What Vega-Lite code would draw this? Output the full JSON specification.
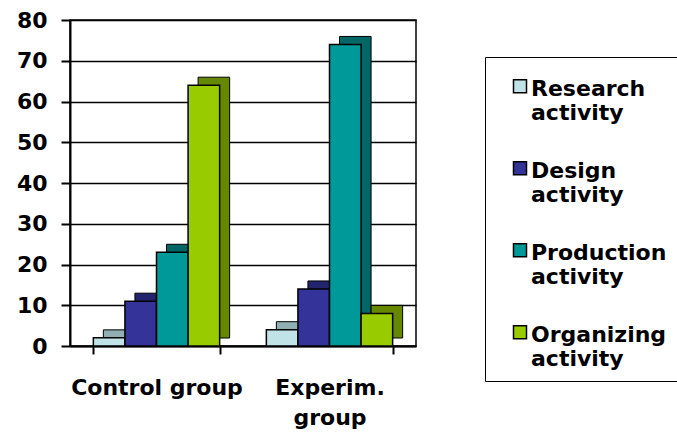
{
  "$schema": "https://vega.github.io/schema/vega-lite/v6.json",
  "width": 346,
  "height": 326,
  "autosize": "none",
  "padding": {"left": 70, "top": 20, "right": 261, "bottom": 87},
  "background": "white",
  "data": {"values": [
    {"group": "Control group", "activity": "Research activity", "value": 2},
    {"group": "Control group", "activity": "Design activity", "value": 11},
    {"group": "Control group", "activity": "Production activity", "value": 23},
    {"group": "Control group", "activity": "Organizing activity", "value": 64},
    {"group": "Experim. group", "activity": "Research activity", "value": 4},
    {"group": "Experim. group", "activity": "Design activity", "value": 14},
    {"group": "Experim. group", "activity": "Production activity", "value": 74},
    {"group": "Experim. group", "activity": "Organizing activity", "value": 8}
  ]},
  "encoding": {
    "x": {"field": "group", "type": "nominal", "sort": null,
      "scale": {"paddingInner": 0.27, "paddingOuter": 0.135},
      "axis": {"title": null, "labelAngle": 0, "labelFont": "DejaVu Sans", "labelFontSize": 22, "labelFontWeight": "bold", "labelColor": "black",
        "labelExpr": "datum.label == 'Experim. group' ? ['Experim.', 'group'] : datum.label",
        "labelLineHeight": 30, "labelPadding": 23, "labelBaseline": "top",
        "tickBand": "extent", "tickColor": "black", "tickSize": 8, "tickWidth": 2, "domainColor": "black", "domainWidth": 2, "grid": false}},
    "y": {"field": "value", "type": "quantitative",
      "scale": {"domain": [0, 80]},
      "axis": {"title": null, "values": [0,10,20,30,40,50,60,70,80], "labelFont": "DejaVu Sans", "labelFontSize": 22, "labelFontWeight": "bold", "labelColor": "black", "labelPadding": 14,
        "tickColor": "black", "tickSize": 9, "tickWidth": 2, "domainColor": "black", "domainWidth": 2, "grid": true, "gridColor": "black", "gridWidth": 1.5}}
  },
  "layer": [
    {
      "mark": {"type": "bar", "yOffset": -8, "stroke": "black", "strokeWidth": 1},
      "encoding": {
        "xOffset": {"field": "activity", "type": "nominal", "sort": ["Research activity", "Design activity", "Production activity", "Organizing activity"],
          "scale": {"range": [10, 136.3]}},
        "color": {"field": "activity", "type": "nominal", "sort": ["Research activity", "Design activity", "Production activity", "Organizing activity"],
          "scale": {"range": ["#8FAFB2", "#24246E", "#006666", "#668800"]}, "legend": null}
      }
    },
    {
      "mark": {"type": "bar", "stroke": "black", "strokeWidth": 1.5},
      "encoding": {
        "xOffset": {"field": "activity", "type": "nominal", "sort": ["Research activity", "Design activity", "Production activity", "Organizing activity"]},
        "fill": {"field": "activity", "type": "nominal", "sort": ["Research activity", "Design activity", "Production activity", "Organizing activity"],
          "scale": {"range": ["#BFE3E6", "#333399", "#009999", "#99CC00"]},
          "legend": {"title": null, "orient": "none", "legendX": 415, "legendY": 37,
            "symbolType": "M-1,0.13H1V2.13H-1Z", "symbolSize": 169, "symbolStrokeColor": "black", "symbolStrokeWidth": 1.5, "symbolOpacity": 1, "symbolOffset": 13,
            "labelFont": "DejaVu Sans", "labelFontSize": 22, "labelFontWeight": "bold", "labelColor": "black",
            "labelExpr": "split(datum.label, ' ')", "labelLineHeight": 28, "labelBaseline": "top", "labelOffset": 0, "labelLimit": 250,
            "rowPadding": 26, "padding": 11, "strokeColor": "black", "fillColor": "white"}}
      }
    }
  ],
  "resolve": {"scale": {"color": "independent", "xOffset": "independent"}},
  "config": {"view": {"stroke": "black", "strokeWidth": 1.5}}
}
